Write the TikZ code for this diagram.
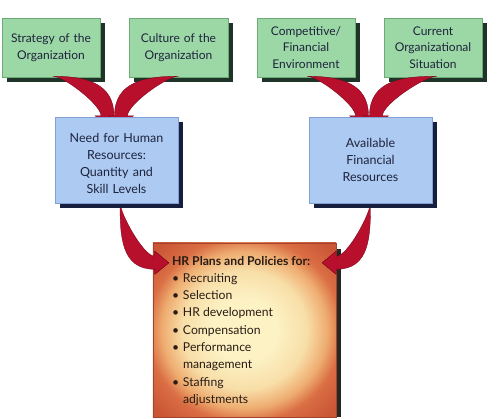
\documentclass[tikz,border=0pt]{standalone}
\usepackage{fontspec}
\setmainfont{Lato}
\usetikzlibrary{calc,shadings}
\definecolor{boxgreen}{RGB}{156,216,166}
\definecolor{edgegreen}{RGB}{110,170,120}
\definecolor{boxblue}{RGB}{172,202,242}
\definecolor{edgeblue}{RGB}{130,160,210}
\definecolor{navyshadow}{RGB}{22,32,62}
\definecolor{greenshadow}{RGB}{30,52,40}
\definecolor{arrowred}{RGB}{184,16,44}
\definecolor{arrowdark}{RGB}{120,8,28}
\definecolor{hrcenter}{RGB}{252,242,196}
\definecolor{hrtan}{RGB}{248,222,168}
\definecolor{hrmid}{RGB}{238,172,112}
\definecolor{hredge}{RGB}{218,110,68}
\definecolor{hrouter}{RGB}{202,86,54}
\definecolor{textnavy}{RGB}{30,35,60}
\definecolor{textbrown}{RGB}{40,28,20}

\pgfdeclareradialshading{hrglow}{\pgfpoint{0bp}{0bp}}{%
  color(0bp)=(hrcenter); color(9bp)=(hrcenter); color(17bp)=(hrtan);
  color(22.5bp)=(hrmid); color(26.5bp)=(hredge); color(33bp)=(hrouter); color(75bp)=(hrouter)}

\tikzset{
  frame/.style={inner sep=0pt},
  factorbox/.style={fill=boxgreen, draw=edgegreen, line width=0.4pt},
  factortext/.style={inner sep=0pt, text width=92pt, align=center,
    font=\fontsize{12}{16.5}\selectfont, text=textnavy},
  needbox/.style={fill=boxblue, draw=edgeblue, line width=0.4pt},
  needtext/.style={inner sep=0pt, text width=115pt, align=center,
    font=\fontsize{12.5}{17.2}\selectfont, text=textnavy},
  swoosh/.style={fill=arrowred, draw=arrowdark, line width=0.3pt},
  swooshshadow/.style={fill=black, opacity=0.22}
}

% tapered arrow heading down: #1 start, #2 tip, #3 start direction (0 or 180)
\newcommand{\swooshdown}[3]{%
  \path ($(#2)+(-6.5,-11)$) coordinate (hbA) ($(#2)+(6.5,-11)$) coordinate (hbB)
        ($(#2)+(-12.5,-11)$) coordinate (hbC) ($(#2)+(12.5,-11)$) coordinate (hbD);
  \ifnum#3=0
    \def\swpath{(#1) to[out=0,in=90,looseness=1.15] (hbB) -- (hbD) -- (#2) -- (hbC) -- (hbA) to[out=90,in=0,looseness=0.45] (#1) -- cycle}%
  \else
    \def\swpath{(#1) to[out=180,in=90,looseness=1.15] (hbA) -- (hbC) -- (#2) -- (hbD) -- (hbB) to[out=90,in=180,looseness=0.45] (#1) -- cycle}%
  \fi
  \fill[swooshshadow,shift={(3pt,-3pt)}] \swpath;
  \filldraw[swoosh] \swpath;
}
% tapered arrow heading sideways: #1 start, #2 tip, #3 head direction (0 right, 180 left)
\newcommand{\swooshside}[3]{%
  \ifnum#3=0
    \path ($(#2)+(-14,-6.5)$) coordinate (hbA) ($(#2)+(-14,6.5)$) coordinate (hbB)
          ($(#2)+(-14,-11.5)$) coordinate (hbC) ($(#2)+(-14,11.5)$) coordinate (hbD);
    \def\swpath{(#1) to[out=270,in=180,looseness=1.15] (hbB) -- (hbD) -- (#2) -- (hbC) -- (hbA) to[out=180,in=270,looseness=0.45] (#1) -- cycle}%
  \else
    \path ($(#2)+(14,-6.5)$) coordinate (hbA) ($(#2)+(14,6.5)$) coordinate (hbB)
          ($(#2)+(14,-11.5)$) coordinate (hbC) ($(#2)+(14,11.5)$) coordinate (hbD);
    \def\swpath{(#1) to[out=270,in=0,looseness=1.15] (hbB) -- (hbD) -- (#2) -- (hbC) -- (hbA) to[out=0,in=270,looseness=0.45] (#1) -- cycle}%
  \fi
  \fill[swooshshadow,shift={(3pt,-3pt)}] \swpath;
  \filldraw[swoosh] \swpath;
}

\begin{document}
\begin{tikzpicture}[x=1pt,y=-1pt]
\useasboundingbox (0,0) rectangle (497,418);

% frames of all boxes
\path
  (51,47.5)    node[frame, minimum width=98pt, minimum height=59pt] (g1) {}
  (178.5,47.5) node[frame, minimum width=98pt, minimum height=59pt] (g2) {}
  (306,47.5)   node[frame, minimum width=98pt, minimum height=59pt] (g3) {}
  (433,47.5)   node[frame, minimum width=98pt, minimum height=59pt] (g4) {}
  (116.5,160)  node[frame, minimum width=123pt, minimum height=86pt] (b1) {}
  (370.5,160)  node[frame, minimum width=123pt, minimum height=86pt] (b2) {}
  (244.5,330)  node[frame, minimum width=183pt, minimum height=174pt] (hr) {};

% HR plans box: shadow and shaded body
\fill[black!85] ($(hr.north east)+(0,6)$) rectangle ($(hr.south east)+(5,0)$);
\shade[shading=hrglow] (hr.north west) rectangle (hr.south east);
\draw[hrouter!80!black, line width=0.4pt] (hr.north west) rectangle (hr.south east);

% connector end points
\coordinate (s1) at ($(g1.south)+(2,-1)$);
\coordinate (t1) at ($(b1.north)+(-9,10)$);
\coordinate (s2) at ($(g2.south)+(0,-1)$);
\coordinate (t2) at ($(b1.north)+(4.5,10)$);
\coordinate (s3) at ($(g3.south)+(1,-1)$);
\coordinate (t3) at ($(b2.north)+(-8.5,10)$);
\coordinate (s4) at ($(g4.south)+(4,-1)$);
\coordinate (t4) at ($(b2.north)+(5.5,10)$);
\coordinate (s5) at ($(b1.south)+(3.5,-1)$);
\coordinate (t5) at ($(hr.north west)+(16,20)$);
\coordinate (s6) at ($(b2.south)+(0,-1)$);
\coordinate (t6) at ($(hr.north east)+(-14,20)$);

\swooshside{s5}{t5}{0}
\swooshside{s6}{t6}{180}

% green boxes with shadows
\foreach \g in {g1,g2,g3,g4}{
  \fill[greenshadow] ($(\g.north west)+(5,5)$) rectangle ($(\g.south east)+(5,5)$);
  \path[factorbox] (\g.north west) rectangle (\g.south east);
}
\node[factortext] (g1t) at (g1) {Strategy of the\\Organization};
\node[factortext] (g2t) at (g2) {Culture of the\\Organization};
\node[factortext] (g3t) at (g3) {Competitive/\\Financial\\Environment};
\node[factortext] (g4t) at (g4) {Current\\Organizational\\Situation};

\swooshdown{s1}{t1}{0}
\swooshdown{s2}{t2}{180}
\swooshdown{s3}{t3}{0}
\swooshdown{s4}{t4}{180}

% blue boxes with shadows
\foreach \b in {b1,b2}{
  \fill[navyshadow] ($(\b.north west)+(5,5)$) rectangle ($(\b.south east)+(5,5)$);
  \path[needbox] (\b.north west) rectangle (\b.south east);
}
\node[needtext] (b1t) at ($(b1)+(0,3.5)$) {Need for Human\\Resources:\\Quantity and\\Skill Levels};
\node[needtext] (b2t) at (b2) {Available\\Financial\\Resources};

% arrowheads lying over the HR box
\begin{scope}
  \clip (hr.north west) rectangle (hr.south east);
  \swooshside{s5}{t5}{0}
  \swooshside{s6}{t6}{180}
\end{scope}

% list of HR plans
\node[anchor=north west, inner sep=0pt, align=left, text=textbrown,
      font=\fontsize{12.2}{17.3}\selectfont] (hrtext) at ($(hr.north west)+(19,13)$)
  {\textbf{HR Plans and Policies for:}\\
   \makebox[11pt][l]{\textbullet}Recruiting\\
   \makebox[11pt][l]{\textbullet}Selection\\
   \makebox[11pt][l]{\textbullet}HR development\\
   \makebox[11pt][l]{\textbullet}Compensation\\
   \makebox[11pt][l]{\textbullet}Performance\\
   \hspace*{11pt}management\\
   \makebox[11pt][l]{\textbullet}Staffing\\
   \hspace*{11pt}adjustments};
\end{tikzpicture}
\end{document}
